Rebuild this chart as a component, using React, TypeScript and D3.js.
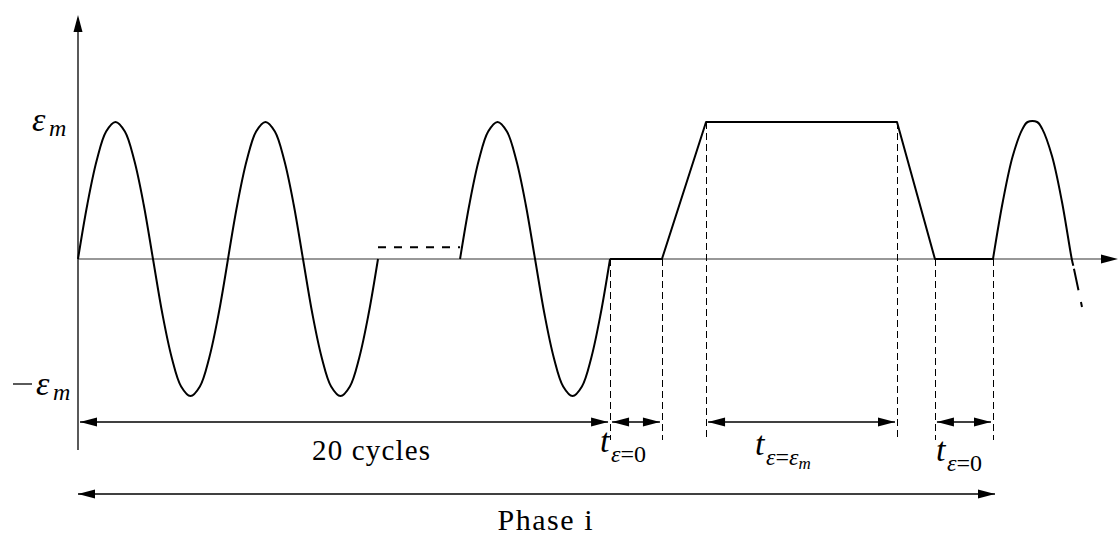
import React from "react";
import * as d3 from "d3";

const WIDTH = 1118;
const HEIGHT = 536;

// one strain cycle: phase within the cycle, strain / ε_m
const cyclePhase = [0, 0.0625, 0.125, 0.1875, 0.25, 0.3125, 0.375, 0.4375, 0.5, 0.5625, 0.625, 0.6875, 0.75, 0.8125, 0.875, 0.9375, 1];
const cycleStrain = [0, 0.4, 0.72, 0.93, 1, 0.93, 0.72, 0.4, 0, -0.4, -0.72, -0.93, -1, -0.93, -0.72, -0.4, 0];

// drawn cycles (time in cycle units)
const cycleStarts = [0, 1, 2.547];
// omitted cycles shown as a dashed line
const omittedTimes = [2.0, 2.547];
const omittedStrain = [0.085, 0.085];

// hold / ramp sequence after the cycles
const holdTimes = [3.547, 3.893, 4.187, 5.46, 5.713, 6.1];
const holdStrain = [0, 0, 1, 1, 0, 0];

// next cycle (partially drawn)
const nextStart = 6.1;
const nextPeriod = 1.05;
const nextSolidPhase = [0, 0.0625, 0.125, 0.1875, 0.22, 0.28, 0.3125, 0.375, 0.4375, 0.5, 0.51];
const nextSolidStrain = [0, 0.42, 0.75, 0.95, 1, 1, 0.95, 0.75, 0.42, 0, -0.05];
const nextDashPhase = [0.51, 0.565];
const nextDashStrain = [-0.05, -0.35];

// dimension arrows
const dimFrom = [0, 3.547, 4.187, 5.713];
const dimTo = [3.547, 3.893, 5.46, 6.1];
const phaseFrom = 0;
const phaseTo = 6.1;

// tick labels on the strain axis
const yTickValues = [1, -1];

const x = d3.scaleLinear().domain([0, 1]).range([78, 228]);
const y = d3.scaleLinear().domain([-1, 1]).range([396, 122]);

const AXIS_X = x(0);
const AXIS_Y = y(0);
const DIM_Y = 422;
const PHASE_Y = 494;
const DASH_BOTTOM = 440;

const lineGen = d3
  .line<[number, number]>()
  .x((d) => x(d[0]))
  .y((d) => y(d[1]))
  .curve(d3.curveCatmullRom.alpha(0.5));

const polyGen = d3
  .line<[number, number]>()
  .x((d) => x(d[0]))
  .y((d) => y(d[1]));

function arrowHead(tx: number, ty: number, dir: "left" | "right" | "up", len = 17, half = 4.5) {
  if (dir === "right") return `M${tx},${ty} L${tx - len},${ty - half} L${tx - len},${ty + half} Z`;
  if (dir === "left") return `M${tx},${ty} L${tx + len},${ty - half} L${tx + len},${ty + half} Z`;
  return `M${tx},${ty} L${tx - half},${ty + len} L${tx + half},${ty + len} Z`;
}

function DimArrow({ x1, x2, yy }: { x1: number; x2: number; yy: number }) {
  return (
    <g>
      <line x1={x1} x2={x2} y1={yy} y2={yy} stroke="#000" strokeWidth={1.3} />
      <path d={arrowHead(x1, yy, "left")} fill="#000" />
      <path d={arrowHead(x2, yy, "right")} fill="#000" />
    </g>
  );
}

const serifStyle: React.CSSProperties = {
  fontFamily: '"Liberation Serif", "Times New Roman", Tinos, "Noto Serif", "DejaVu Serif", FreeSerif, serif',
};

function TLabel({ lx, base, sub }: { lx: number; base: number; sub: React.ReactNode }) {
  return (
    <g style={serifStyle}>
      <text x={lx} y={base} fontSize={34} fontStyle="italic">t</text>
      <text x={lx + 11} y={base + 10} fontSize={24}>{sub}</text>
    </g>
  );
}

export default function App() {
  const cyclePts = cyclePhase.map((p, i) => [p, cycleStrain[i]] as [number, number]);
  const cyclePaths = cycleStarts.map((s) => lineGen(cyclePts.map(([p, v]) => [s + p, v] as [number, number])));
  const holdPath = polyGen(holdTimes.map((t, i) => [t, holdStrain[i]] as [number, number]));
  const nextSolid = lineGen(
    nextSolidPhase.map((p, i) => [nextStart + p * nextPeriod, nextSolidStrain[i]] as [number, number])
  );
  const nextDash = polyGen(
    nextDashPhase.map((p, i) => [nextStart + p * nextPeriod, nextDashStrain[i]] as [number, number])
  );
  const omittedPath = polyGen(omittedTimes.map((t, i) => [t, omittedStrain[i]] as [number, number]));

  return (
    <svg width={WIDTH} height={HEIGHT} style={{ display: "block", position: "absolute", left: 0, top: 0 }}>
      <rect width={WIDTH} height={HEIGHT} fill="#fff" />
      {/* axes */}
      <line x1={AXIS_X} x2={AXIS_X} y1={450} y2={30} stroke="#000" strokeWidth={1.3} />
      <path d={arrowHead(AXIS_X, 15, "up", 17, 4.5)} fill="#000" />
      <line x1={AXIS_X} x2={1102} y1={AXIS_Y} y2={AXIS_Y} stroke="#333" strokeWidth={1.2} />
      <path d={arrowHead(1118, AXIS_Y, "right", 17, 4.5)} fill="#000" />

      {/* vertical dashed guides */}
      {holdTimes.map((t, i) => (
        <line
          key={i}
          x1={Math.round(x(t)) + 0.5}
          x2={Math.round(x(t)) + 0.5}
          y1={y(holdStrain[i])}
          y2={DASH_BOTTOM}
          stroke="#000"
          strokeWidth={1}
          strokeDasharray="7,4"
        />
      ))}

      {/* waveform */}
      {cyclePaths.map((d, i) => (
        <path key={i} d={d ?? ""} fill="none" stroke="#000" strokeWidth={2} />
      ))}
      <path d={omittedPath ?? ""} fill="none" stroke="#000" strokeWidth={2} strokeDasharray="8,8" />
      <path d={holdPath ?? ""} fill="none" stroke="#000" strokeWidth={2} strokeLinejoin="round" />
      <path d={nextSolid ?? ""} fill="none" stroke="#000" strokeWidth={2} />
      <path d={nextDash ?? ""} fill="none" stroke="#000" strokeWidth={2} strokeDasharray="0,3,22,12,6,100" />

      {/* dimension arrows */}
      {dimFrom.map((f, i) => (
        <DimArrow key={i} x1={x(f) + 2} x2={x(dimTo[i]) - 2} yy={DIM_Y} />
      ))}
      <DimArrow x1={x(phaseFrom)} x2={x(phaseTo) + 2} yy={PHASE_Y} />

      {/* strain tick labels */}
      <g style={serifStyle} fontStyle="italic">
        {yTickValues.map((v) => (
          <g key={v}>
            {v < 0 && <line x1={13} x2={32} y1={y(v) - 12} y2={y(v) - 12} stroke="#000" strokeWidth={1.3} />}
            <text x={v > 0 ? 32 : 36} y={y(v) + (v > 0 ? 9 : -1)} fontSize={34}>ε</text>
            <text x={v > 0 ? 49 : 53} y={y(v) + (v > 0 ? 14 : 4)} fontSize={24}>m</text>
          </g>
        ))}
      </g>

      {/* texts */}
      <text x={371} y={460} style={serifStyle} fontSize={29} textAnchor="middle" textLength={118} lengthAdjust="spacing">
        20 cycles
      </text>
      <text x={545} y={530} style={serifStyle} fontSize={30} textAnchor="middle" textLength={95} lengthAdjust="spacing">
        Phase i
      </text>

      <TLabel
        lx={600}
        base={452}
        sub={
          <>
            <tspan fontStyle="italic">ε</tspan>=0
          </>
        }
      />
      <TLabel
        lx={755}
        base={455}
        sub={
          <>
            <tspan fontStyle="italic">ε</tspan>=<tspan fontStyle="italic">ε</tspan>
            <tspan fontStyle="italic" fontSize={17} dy={4}>m</tspan>
          </>
        }
      />
      <TLabel
        lx={936}
        base={461}
        sub={
          <>
            <tspan fontStyle="italic">ε</tspan>=0
          </>
        }
      />
    </svg>
  );
}
